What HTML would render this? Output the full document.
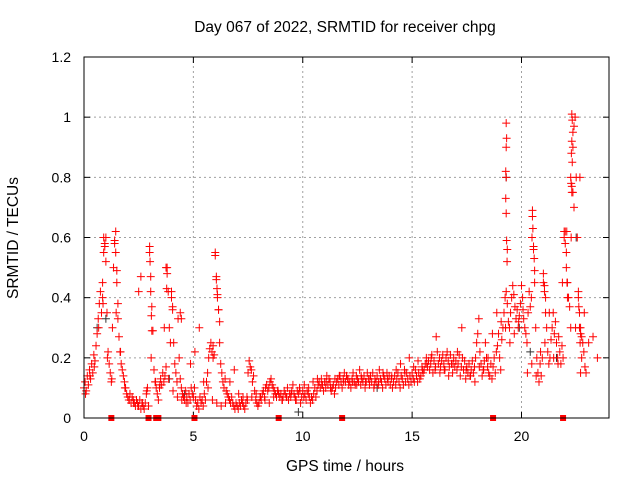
<!DOCTYPE html>
<html><head><meta charset="utf-8"><style>
html,body{margin:0;padding:0;background:#fff;}
svg{display:block;font-family:"Liberation Sans",sans-serif;}
</style></head><body>
<svg id="chart" width="640" height="480" viewBox="0 0 640 480" xmlns="http://www.w3.org/2000/svg">
<rect width="640" height="480" fill="#fff"/>
<text x="345" y="32" font-size="15.5" text-anchor="middle">Day 067 of 2022, SRMTID for receiver chpg</text>
<text transform="translate(18,238) rotate(-90)" font-size="15.5" text-anchor="middle">SRMTID / TECUs</text>
<text x="345" y="471" font-size="15.5" text-anchor="middle">GPS time / hours</text>
<g id="grid"></g>
<g id="ticks"></g>
<g id="marks"></g>
<rect x="84" y="57" width="525" height="361" fill="none" stroke="#000" stroke-width="1"/>
</svg>
<script>
const xTicks=[0,5,10,15,20];
const yTicks=[0,0.2,0.4,0.6,0.8,1,1.2];
const yTickLabels=["0","0.2","0.4","0.6","0.8","1","1.2"];
const sampleStart=0, sampleStep=0.05;
const tecu=[
.10,.12,.09,.14,.11,.16,.13,.18,.15,.21,.19,.24,.28,.33,.38,.42,.35,.40,.55,.58,
.60,.35,.22,.18,.15,.12,.30,.50,.58,.62,.45,.33,.27,.22,.18,.16,.14,.12,.10,.08,
.07,.06,.08,.05,.07,.06,.05,.04,.06,.05,.04,.06,.03,.05,.04,.03,.05,.08,.10,.04,
.57,.47,.37,.29,.16,.12,.10,.08,.06,.10,.13,.11,.15,.12,.14,.17,.50,.42,.30,.25,
.42,.36,.25,.18,.15,.12,.33,.20,.13,.10,.08,.07,.06,.09,.07,.05,.08,.06,.10,.08,
.07,.10,.06,.04,.05,.03,.07,.05,.06,.04,.08,.06,.12,.15,.20,.23,.25,.22,.24,.21,
.55,.47,.41,.36,.25,.18,.15,.12,.10,.13,.09,.08,.07,.06,.05,.07,.05,.04,.03,.05,
.04,.03,.05,.04,.06,.05,.04,.03,.05,.07,.15,.19,.17,.16,.12,.14,.09,.06,.05,.04,
.05,.07,.06,.08,.09,.07,.10,.11,.09,.10,.12,.13,.11,.10,.09,.08,.07,.09,.08,.07,
.08,.06,.07,.09,.08,.07,.10,.06,.08,.07,.09,.11,.08,.07,.06,.09,.08,.10,.05,.07,
.09,.07,.08,.06,.09,.08,.07,.05,.07,.06,.08,.10,.07,.09,.11,.12,.10,.13,.11,.09,
.12,.10,.14,.11,.13,.12,.09,.10,.11,.08,.10,.12,.13,.11,.14,.12,.10,.13,.15,.12,
.14,.13,.11,.12,.10,.13,.15,.12,.11,.14,.13,.12,.16,.11,.13,.12,.14,.10,.12,.15,
.13,.11,.14,.12,.15,.10,.13,.12,.14,.11,.16,.13,.12,.10,.14,.13,.11,.15,.12,.14,
.11,.13,.10,.12,.14,.11,.13,.15,.12,.10,.14,.13,.11,.16,.12,.15,.13,.11,.14,.12,
.15,.13,.12,.16,.14,.12,.15,.13,.14,.17,.15,.16,.18,.20,.17,.19,.16,.18,.21,.15,
.19,.16,.27,.22,.18,.20,.17,.19,.21,.18,.16,.20,.22,.19,.17,.21,.18,.15,.20,.17,
.19,.16,.18,.21,.14,.17,.20,.16,.19,.13,.17,.15,.18,.14,.16,.19,.15,.17,.20,.25,
.28,.33,.22,.18,.14,.16,.19,.25,.20,.17,.15,.14,.18,.13,.17,.20,.15,.22,.24,.28,
.20,.16,.26,.30,.35,.40,.42,.38,.32,.30,.35,.40,.44,.41,.37,.33,.36,.30,.34,.38,
.44,.40,.33,.30,.28,.25,.35,.42,.37,.40,.69,.57,.45,.30,.20,.15,.12,.18,.14,.20,
.45,.42,.35,.30,.22,.18,.20,.26,.30,.35,.28,.32,.25,.20,.27,.22,.18,.24,.20,.60,
.62,.55,.45,.40,.37,.30,.75,.90,.97,1.0,.80,.60,.42,.35,.30,.27,.25,.22,.17,.15];
const tecu2=[
.08,.14,.17,.30,.38,.20,.13,.35,.22,.10,.06,.05,.04,.05,.09,.20,.12,.11,.30,.13,
.09,.07,.06,.05,.18,.22,.30,.12,.10,.06,.05,.04,.05,.12,.16,.08,.07,.06,.07,.08,
.07,.06,.05,.07,.09,.06,.07,.08,.06,.09,.11,.10,.12,.13,.11,.12,.10,.13,.14,.12,
.13,.12,.11,.14,.12,.13,.11,.12,.15,.13,.14,.16,.18,.15,.20,.17,.19,.16,.18,.20,
.17,.15,.16,.14,.18,.22,.30,.16,.14,.12,.17,.16,.20,.28,.35,.32,.30,.25,.28,.32,
.36,.15,.18,.14,.22,.25,.35,.20,.18,.45,.62,.60,.30,.80,.35,.25,.27,.20];
const blackHours=[0.6,1.0,3.9,4.6,9.8,13.4,19.3,19.9,20.4,21.6,22.5];
const blackValues=[0.3,0.33,0.13,0.08,0.02,0.1,0.8,0.3,0.22,0.2,0.6];
const extraHours=[0.9,0.95,1.0,0.85,1.4,1.45,1.5,1.55,2.6,2.5,3.0,3.02,3.05,3.08,3.1,3.75,3.8,3.78,4.0,4.05,4.4,4.45,6.0,6.05,6.08,6.1,6.15,6.2,5.9,19.3,19.32,19.3,19.28,19.3,19.28,19.3,19.32,19.35,19.34,20.5,20.52,20.48,20.55,20.58,20.6,21.0,21.05,21.1,21.95,22.0,22.05,22.08,22.1,22.3,22.32,22.35,22.3,22.28,22.32,22.25,22.27,22.3,22.35,22.4,22.6,22.62,22.65,22.7,22.68,22.75,22.7];
const extraValues=[0.6,0.57,0.52,0.45,0.59,0.55,0.49,0.38,0.47,0.42,0.55,0.52,0.42,0.34,0.29,0.5,0.48,0.43,0.4,0.37,0.35,0.33,0.54,0.46,0.43,0.4,0.36,0.32,0.2,0.98,0.93,0.9,0.82,0.8,0.73,0.68,0.59,0.56,0.52,0.67,0.63,0.6,0.56,0.53,0.49,0.48,0.44,0.4,0.62,0.58,0.5,0.45,0.4,1.01,0.99,0.95,0.92,0.88,0.85,0.8,0.78,0.77,0.75,0.7,0.4,0.37,0.3,0.28,0.25,0.2,0.15];
const zeroHours=[1.25,2.95,3.3,3.4,5.05,8.9,11.8,18.7,21.9];

const NS="http://www.w3.org/2000/svg";
const X0=84,X1=609,Y0=418,Y1=57;
function xs(h){return X0+(h/24)*(X1-X0);}
function ys(v){return Y0-(v/1.2)*(Y0-Y1);}
function mk(tag,attrs,parent){const e=document.createElementNS(NS,tag);for(const k in attrs)e.setAttribute(k,attrs[k]);parent.appendChild(e);return e;}
const grid=document.getElementById('grid'),ticks=document.getElementById('ticks'),marks=document.getElementById('marks');
xTicks.forEach(t=>{
  const x=xs(t);
  if(t>0){const g=mk('line',{x1:x,x2:x,y1:Y0,y2:Y1,stroke:'#a0a0a0','stroke-dasharray':'2,3'},grid);
  
  }
  mk('line',{x1:x,x2:x,y1:Y0,y2:Y0-6,stroke:'#000'},ticks);
  mk('line',{x1:x,x2:x,y1:Y1,y2:Y1+6,stroke:'#000'},ticks);
  const l=mk('text',{x:x,y:Y0+23,'font-size':14,'text-anchor':'middle'},ticks);l.textContent=t;
  
  
});
yTicks.forEach((v,i)=>{
  const y=ys(v);
  if(v>0&&v<1.2){const g=mk('line',{x1:X0,x2:X1,y1:y,y2:y,stroke:'#a0a0a0','stroke-dasharray':'2,3'},grid);
  
  }
  mk('line',{x1:X0,x2:X0+6,y1:y,y2:y,stroke:'#000'},ticks);
  mk('line',{x1:X1,x2:X1-6,y1:y,y2:y,stroke:'#000'},ticks);
  const l=mk('text',{x:X0-13,y:y+5,'font-size':14,'text-anchor':'end'},ticks);l.textContent=yTickLabels[i];
  
  
});
function plus(h,v,color,name){
  const x=xs(h),y=ys(v);
  const p=mk('path',{d:`M${x-4},${y}h8M${x},${y-4}v8`,stroke:color,'stroke-width':1,fill:'none'},marks);
  
  
}
blackHours.forEach((h,i)=>plus(h,blackValues[i],'#333','point-black'));
tecu2.forEach((v,i)=>plus(sampleStart+i*0.2+0.07,v,'#ff0000','point-red'));
tecu.forEach((v,i)=>plus(sampleStart+i*sampleStep,v,'#ff0000','point-red'));
extraHours.forEach((h,i)=>plus(h,extraValues[i],'#ff0000','point-red'));
zeroHours.forEach(h=>{
  const r=mk('rect',{x:xs(h)-3,y:Y0-3,width:6,height:6,fill:'#ff0000'},marks);
  
  
});
</script>
</body></html>
